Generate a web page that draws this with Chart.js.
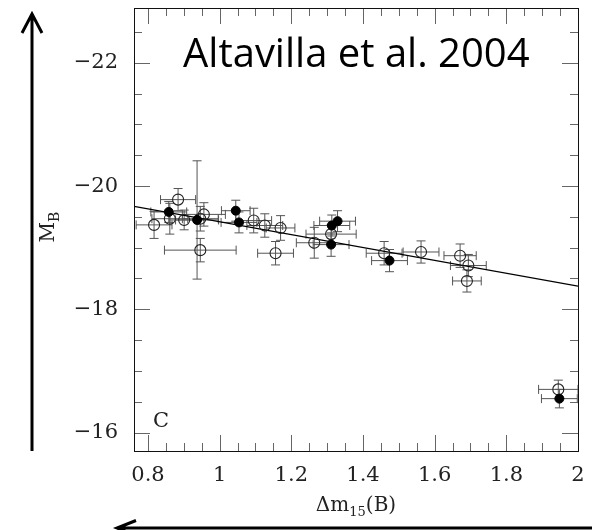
<!doctype html>
<html>
<head>
<meta charset="UTF-8">
<title>Altavilla et al. 2004</title>
<script src="https://cdn.jsdelivr.net/npm/chart.js@4.4.0/dist/chart.umd.min.js"></script>
<style>
  html, body { margin: 0; padding: 0; background: #fff; }
  canvas { display: block; }
</style>
</head>
<body>
<canvas id="myCanvas" width="592" height="530"></canvas>
<script>
// open symbols
var openX    = [0.817, 0.884, 0.861, 0.901, 0.946, 0.956, 0.946, 1.095, 1.126, 1.170, 1.156, 1.311, 1.264, 1.459, 1.562, 1.671, 1.694, 1.690, 1.945];
var openY    = [-19.37, -19.78, -19.47, -19.45, -18.96, -19.54, -19.47, -19.44, -19.36, -19.32, -18.91, -19.22, -19.08, -18.91, -18.93, -18.87, -18.71, -18.46, -16.70];
var openXerr = [0.05, 0.049, 0.05, 0.04, 0.10, 0.06, 0.05, 0.05, 0.05, 0.04, 0.05, 0.07, 0.05, 0.05, 0.05, 0.045, 0.05, 0.04, 0.055];
var openYerr = [0.22, 0.18, 0.25, 0.16, 0.19, 0.19, 0.20, 0.20, 0.19, 0.20, 0.19, 0.15, 0.25, 0.19, 0.18, 0.19, 0.18, 0.18, 0.15];

// filled symbols
var filledX    = [0.858, 0.937, 1.045, 1.054, 1.329, 1.313, 1.311, 1.474, 1.948];
var filledY    = [-19.58, -19.45, -19.60, -19.41, -19.43, -19.36, -19.05, -18.79, -16.55];
var filledXerr = [0.05, 0.06, 0.04, 0.05, 0.05, 0.05, 0.05, 0.05, 0.05];
var filledYerr = [0.17, 0.96, 0.17, 0.17, 0.17, 0.17, 0.19, 0.18, 0.15];

// fitted relation
var fitX = [0.761, 2.0];
var fitY = [-19.67, -18.375];

var xTicks = [0.8, 1, 1.2, 1.4, 1.6, 1.8, 2];
var yTicks = [-22, -20, -18, -16];

function pts(xs, ys, xe, ye) {
    return xs.map(function (x, i) { return { x: x, y: ys[i], xe: xe ? xe[i] : 0, ye: ye ? ye[i] : 0 }; });
}

// error bars under the symbols
var errorBars = {
    id: 'errorBars',
    beforeDatasetsDraw: function (chart) {
        var ctx = chart.ctx, xs = chart.scales.x, ys = chart.scales.y, a = chart.chartArea;
        var cap = 4.5;
        ctx.save();
        ctx.beginPath();
        ctx.rect(a.left, a.top, a.right - a.left, a.bottom - a.top);
        ctx.clip();
        ctx.strokeStyle = '#555';
        ctx.lineWidth = 1;
        chart.data.datasets.forEach(function (ds) {
            if (!ds.errors) return;
            ds.data.forEach(function (d) {
                var px = xs.getPixelForValue(d.x), py = ys.getPixelForValue(d.y);
                var x1 = xs.getPixelForValue(d.x - d.xe), x2 = xs.getPixelForValue(d.x + d.xe);
                var y1 = ys.getPixelForValue(d.y - d.ye), y2 = ys.getPixelForValue(d.y + d.ye);
                ctx.beginPath();
                ctx.moveTo(x1, py); ctx.lineTo(x2, py);
                ctx.moveTo(x1, py - cap); ctx.lineTo(x1, py + cap);
                ctx.moveTo(x2, py - cap); ctx.lineTo(x2, py + cap);
                ctx.moveTo(px, y1); ctx.lineTo(px, y2);
                ctx.moveTo(px - cap, y1); ctx.lineTo(px + cap, y1);
                ctx.moveTo(px - cap, y2); ctx.lineTo(px + cap, y2);
                ctx.stroke();
            });
        });
        ctx.restore();
    }
};

// box, inward ticks, labels and arrows
var frame = {
    id: 'frame',
    afterDraw: function (chart) {
        var ctx = chart.ctx, xs = chart.scales.x, ys = chart.scales.y, a = chart.chartArea;
        ctx.save();
        ctx.strokeStyle = '#666';
        ctx.lineWidth = 1;
        ctx.beginPath();
        var i, v, p, len;
        for (i = 0; i <= 24; i++) {
            v = 0.8 + i * 0.05;
            p = Math.round(xs.getPixelForValue(v)) + 0.5;
            len = (i % 4 === 0) ? 16 : 8;
            ctx.moveTo(p, a.bottom); ctx.lineTo(p, a.bottom - len);
            ctx.moveTo(p, a.top); ctx.lineTo(p, a.top + len);
        }
        for (i = 0; i <= 13; i++) {
            v = -22.5 + i * 0.5;
            p = Math.round(ys.getPixelForValue(v)) + 0.5;
            len = (i % 4 === 1) ? 16 : 8;
            ctx.moveTo(a.left, p); ctx.lineTo(a.left + len, p);
            ctx.moveTo(a.right, p); ctx.lineTo(a.right - len, p);
        }
        ctx.stroke();

        ctx.strokeStyle = '#111';
        ctx.strokeRect(Math.round(a.left) + 0.5, Math.round(a.top) + 0.5,
            Math.round(a.right - a.left), Math.round(a.bottom - a.top));

        ctx.fillStyle = '#000';
        ctx.textBaseline = 'alphabetic';
        ctx.textAlign = 'left';
        ctx.font = '40px "Open Sans"';
        ctx.fillText('Altavilla et al. 2004', 183, 67);

        ctx.fillStyle = '#222';
        ctx.font = '21px "DejaVu Serif"';
        ctx.fillText('C', 153, 427);

        // y title M_B
        ctx.save();
        ctx.translate(53.5, 227);
        ctx.rotate(-Math.PI / 2);
        ctx.font = '20px "DejaVu Serif"';
        var wM = ctx.measureText('M').width;
        ctx.font = '14px "DejaVu Serif"';
        var wB = ctx.measureText('B').width;
        var sx = -(wM + wB) / 2;
        ctx.font = '20px "DejaVu Serif"';
        ctx.fillText('M', sx, 0);
        ctx.font = '14px "DejaVu Serif"';
        ctx.fillText('B', sx + wM, 5);
        ctx.restore();

        // x title Δm15(B)
        ctx.font = '20px "DejaVu Serif"';
        var w1 = ctx.measureText('Δm').width, w3 = ctx.measureText('(B)').width;
        ctx.font = '13px "DejaVu Serif"';
        var w2 = ctx.measureText('15').width;
        var tx = (a.left + a.right) / 2 - (w1 + w2 + w3) / 2, ty = 511;
        ctx.font = '20px "DejaVu Serif"';
        ctx.fillText('Δm', tx, ty);
        ctx.font = '13px "DejaVu Serif"';
        ctx.fillText('15', tx + w1, ty + 5);
        ctx.font = '20px "DejaVu Serif"';
        ctx.fillText('(B)', tx + w1 + w2, ty);

        // arrows
        ctx.strokeStyle = '#000';
        ctx.lineWidth = 3;
        ctx.beginPath();
        ctx.moveTo(32, 451); ctx.lineTo(32, 15);
        ctx.moveTo(22, 33); ctx.lineTo(32, 14); ctx.lineTo(42, 33);
        ctx.moveTo(592, 528); ctx.lineTo(118, 528);
        ctx.moveTo(136, 520.5); ctx.lineTo(117, 528); ctx.lineTo(136, 535.5);
        ctx.stroke();
        ctx.restore();
    }
};

var ctx = document.getElementById('myCanvas').getContext('2d');
var myChart = new Chart(ctx, {
    type: 'scatter',
    data: {
        datasets: [{
            label: 'fit',
            data: pts(fitX, fitY),
            showLine: true,
            borderColor: '#000',
            borderWidth: 1.3,
            pointRadius: 0,
            order: 3
        }, {
            label: 'open',
            data: pts(openX, openY, openXerr, openYerr),
            errors: true,
            pointStyle: 'circle',
            pointRadius: 5.5,
            backgroundColor: 'rgba(0,0,0,0)',
            borderColor: '#222',
            borderWidth: 1.1,
            order: 2
        }, {
            label: 'filled',
            data: pts(filledX, filledY, filledXerr, filledYerr),
            errors: true,
            pointStyle: 'circle',
            pointRadius: 4.5,
            backgroundColor: '#000',
            borderColor: '#000',
            borderWidth: 1,
            order: 1
        }]
    },
    options: {
        responsive: false,
        animation: false,
        events: [],
        layout: { padding: { top: 8, right: 14, left: 0, bottom: 0 } },
        plugins: { legend: { display: false }, tooltip: { enabled: false } },
        scales: {
            x: {
                type: 'linear',
                min: 0.761, max: 2.0,
                grid: { display: false, drawTicks: false },
                border: { display: false },
                afterBuildTicks: function (s) { s.ticks = xTicks.map(function (v) { return { value: v }; }); },
                afterFit: function (s) { s.height = 79; s.paddingLeft = 0; s.paddingRight = 0; },
                ticks: {
                    autoSkip: false, maxRotation: 0, padding: 12,
                    color: '#222',
                    font: { family: 'DejaVu Serif', size: 21 },
                    callback: function (v) { return String(v); }
                }
            },
            y: {
                type: 'linear',
                reverse: true,
                min: -22.89, max: -15.70,
                grid: { display: false, drawTicks: false },
                border: { display: false },
                afterBuildTicks: function (s) { s.ticks = yTicks.map(function (v) { return { value: v }; }); },
                afterFit: function (s) { s.width = 134; s.paddingTop = 0; s.paddingBottom = 0; },
                ticks: {
                    autoSkip: false, padding: 16,
                    color: '#222',
                    font: { family: 'DejaVu Serif', size: 21 },
                    callback: function (v) { return '\u2212' + Math.abs(v); }
                }
            }
        }
    },
    plugins: [errorBars, frame]
});
</script>
</body>
</html>
